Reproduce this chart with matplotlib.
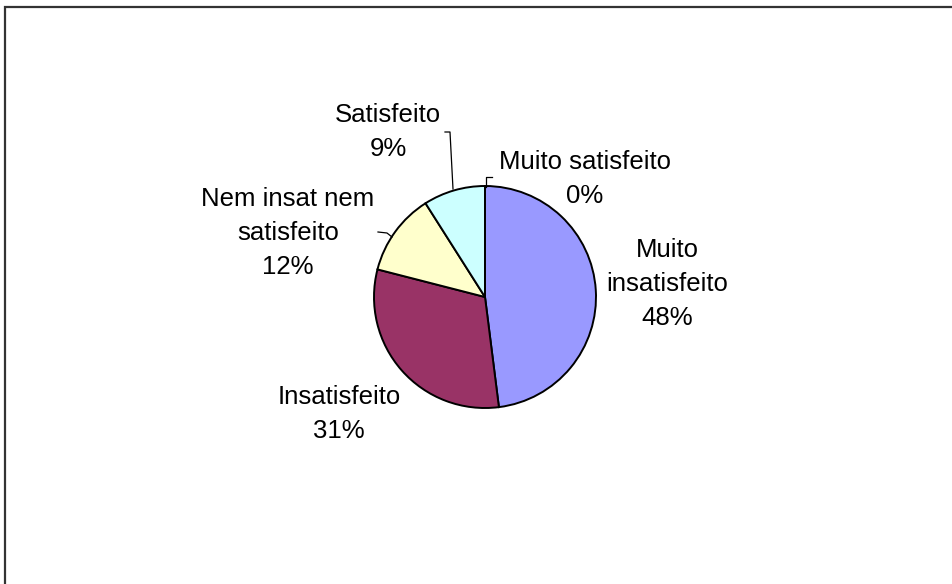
import matplotlib
matplotlib.use("Agg")
import matplotlib.pyplot as plt
from matplotlib.patches import Rectangle

# survey answers (percent of respondents)
categories = ["Muito insatisfeito", "Insatisfeito", "Nem insat nem satisfeito",
              "Satisfeito", "Muito satisfeito"]
values = [48, 31, 12, 9, 0]
label_lines = ["Muito\ninsatisfeito", "Insatisfeito", "Nem insat nem\nsatisfeito",
               "Satisfeito", "Muito satisfeito"]
colors = ["#9999FF", "#993366", "#FFFFCC", "#CCFFFF", "#FFFFFF"]

W, H = 953, 584
plt.rcParams['font.family'] = ['Liberation Sans', 'DejaVu Sans']

fig = plt.figure(figsize=(W / 100, H / 100), dpi=100)
ax = fig.add_axes([0, 0, 1, 1])

def py(y):
    # pixel row -> data y
    return H - y

ax.pie(values, colors=colors, startangle=90, counterclock=False,
       center=(485, py(297)), radius=111,
       wedgeprops=dict(edgecolor='black', linewidth=1.4))

# label blocks (text centre in pixels) and leader lines
label_pos = [(667, 284), (339, 414), (288, 233), (388, 132), (585, 179)]
leaders = {
    2: [(378, 232), (387, 233), (392, 237)],
    3: [(445, 132), (450, 132), (453, 189)],
    4: [(492, 177), (486, 177), (486, 187)],
}

for i, (name, v) in enumerate(zip(label_lines, values)):
    x, y = label_pos[i]
    ax.text(x, py(y), "%s\n%d%%" % (name, v), ha='center', va='center',
            fontsize=18.5, linespacing=1.54, color='black')
    if i in leaders:
        pts = leaders[i]
        ax.plot([p[0] for p in pts], [py(p[1]) for p in pts], color='black', lw=0.9)

# outer chart frame (cut by image edge on the right and bottom)
ax.add_patch(Rectangle((5, py(H + 20)), W + 20, H + 13, fill=False,
                       edgecolor='#333333', lw=1.6, clip_on=False))

ax.set_xlim(0, W)
ax.set_ylim(0, H)
ax.set_aspect('equal')
ax.axis('off')

fig.savefig("out.png", dpi=100)
